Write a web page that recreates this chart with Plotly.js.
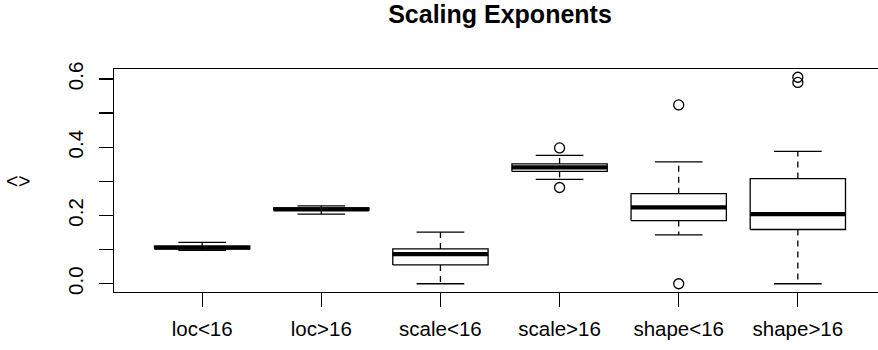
<!DOCTYPE html>
<html>
<head>
<meta charset="utf-8">
<script src="https://cdn.plot.ly/plotly-3.0.1.min.js"></script>
<style>
  html, body { margin: 0; padding: 0; overflow: hidden; background: #ffffff; width: 878px; height: 350px; }
  #chart { width: 890px; height: 350px; }
</style>
</head>
<body>
<div id="chart"></div>
<script>
// Five-number summaries per group, plus points outside the whiskers
const groups = ["loc<16", "loc>16", "scale<16", "scale>16", "shape<16", "shape>16"];
const lowerWhisker = [0.098, 0.204, 0.000, 0.306, 0.143, 0.000];
const q1           = [0.102, 0.215, 0.055, 0.329, 0.185, 0.159];
const median       = [0.106, 0.218, 0.087, 0.341, 0.224, 0.204];
const q3           = [0.110, 0.222, 0.102, 0.351, 0.264, 0.308];
const upperWhisker = [0.121, 0.228, 0.151, 0.376, 0.357, 0.388];
const outlierGroup = [4, 4, 5, 5, 6, 6];
const outlierValue = [0.398, 0.282, 0.524, 0.000, 0.605, 0.590];
const yTickVals = [0, 0.1, 0.2, 0.3, 0.4, 0.5, 0.6];
const yTickText = ["0.0", "", "0.2", "", "0.4", "", "0.6"];

const BOX_HALF = 0.4;    // boxwex 0.8
const CAP_HALF = 0.2;    // staple width
const INK = "#000000";
const LW = 1.3;

const boxX = [], boxY = [], medX = [], medY = [], whX = [], whY = [], capX = [], capY = [];
groups.forEach((g, k) => {
  const i = k + 1;
  boxX.push(i - BOX_HALF, i + BOX_HALF, i + BOX_HALF, i - BOX_HALF, i - BOX_HALF, null);
  boxY.push(q1[k], q1[k], q3[k], q3[k], q1[k], null);
  medX.push(i - BOX_HALF, i + BOX_HALF, null);
  medY.push(median[k], median[k], null);
  whX.push(i, i, null, i, i, null);
  whY.push(q3[k], upperWhisker[k], null, q1[k], lowerWhisker[k], null);
  capX.push(i - CAP_HALF, i + CAP_HALF, null, i - CAP_HALF, i + CAP_HALF, null);
  capY.push(upperWhisker[k], upperWhisker[k], null, lowerWhisker[k], lowerWhisker[k], null);
});

// axis limits: data range padded by 4% on each side
const allVals = lowerWhisker.concat(upperWhisker, outlierValue);
const yMin = Math.min(...allVals), yMax = Math.max(...allVals);
const yPad = 0.04 * (yMax - yMin);
const xLo = 0.5, xHi = groups.length + 0.5;
const xPad = 0.04 * (xHi - xLo);

const lineTrace = (x, y, width, dash) => ({
  type: "scatter", mode: "lines", x, y, hoverinfo: "skip", showlegend: false,
  line: { color: INK, width, dash: dash || "solid" }
});

const traces = [
  lineTrace(whX, whY, LW, "6px,5px"),
  lineTrace(capX, capY, LW),
  lineTrace(boxX, boxY, LW),
  lineTrace(medX, medY, 4.2),
  {
    type: "scatter", mode: "markers", x: outlierGroup, y: outlierValue,
    showlegend: false, hoverinfo: "skip",
    marker: { symbol: "circle-open", size: 10, color: INK, line: { width: LW, color: INK } }
  }
];

const layout = {
  width: 890, height: 350,
  margin: { l: 114, r: 4, t: 69, b: 58 },
  paper_bgcolor: "#ffffff", plot_bgcolor: "#ffffff",
  font: { family: "Liberation Sans, Arial, sans-serif", color: INK, size: 20 },
  showlegend: false,
  title: {
    text: "<b>Scaling Exponents</b>",
    font: { size: 25, family: "Liberation Sans, Arial, sans-serif", color: INK },
    xref: "paper", x: 0.5, xanchor: "center",
    yref: "container", y: 0.958, yanchor: "middle"
  },
  xaxis: {
    range: [xLo - xPad, xHi + xPad],
    tickvals: groups.map((g, k) => k + 1), ticktext: groups,
    ticks: "outside", ticklen: 14, tickwidth: LW, tickcolor: INK,
    showline: true, mirror: true, linecolor: INK, linewidth: LW,
    showgrid: false, zeroline: false,
    tickfont: { size: 20.5 }, ticklabelstandoff: 4
  },
  yaxis: {
    range: [yMin - yPad, yMax + yPad],
    tickvals: yTickVals, ticktext: yTickText, tickangle: -90,
    ticks: "outside", ticklen: 14, tickwidth: LW, tickcolor: INK,
    showline: true, mirror: true, linecolor: INK, linewidth: LW,
    showgrid: false, zeroline: false,
    tickfont: { size: 20.5 }, ticklabelstandoff: 8
  },
  annotations: [{
    text: "<>", xref: "paper", yref: "paper", x: 0, y: 0.5,
    xanchor: "center", yanchor: "middle", xshift: -96, showarrow: false,
    font: { size: 21, color: INK }
  }]
};

Plotly.newPlot("chart", traces, layout, { staticPlot: true, displayModeBar: false });
</script>
</body>
</html>
